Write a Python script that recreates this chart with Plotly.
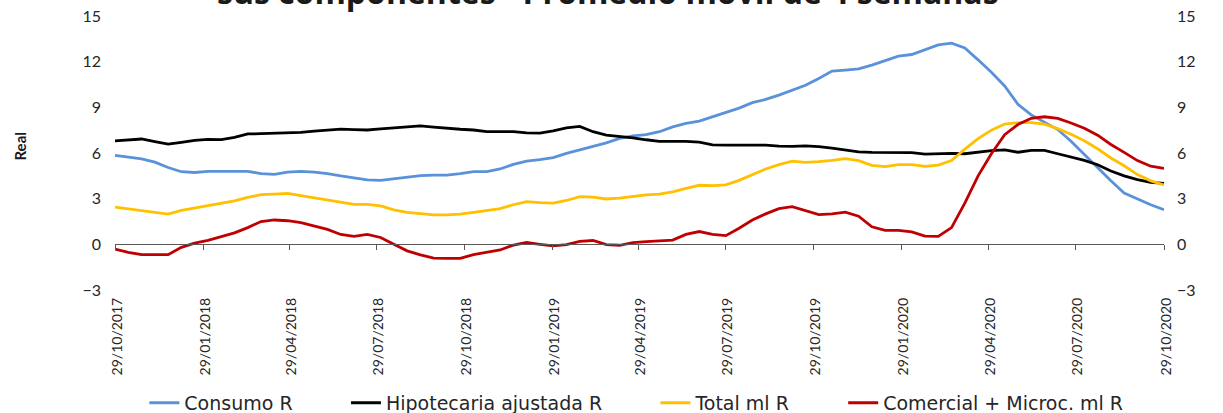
import pandas as pd
import plotly.graph_objects as go

# ---- data (bi-weekly readings of 4-week moving averages, % real) ----
start_date = "2017-10-29"
end_date = "2020-10-29"
n_points = 80

consumo = [5.85, 5.73, 5.62, 5.40, 5.05, 4.77, 4.72, 4.79, 4.79, 4.79,
           4.79, 4.65, 4.60, 4.75, 4.79, 4.75, 4.65, 4.50, 4.38, 4.24,
           4.20, 4.30, 4.40, 4.52, 4.55, 4.55, 4.65, 4.78, 4.78, 4.95,
           5.25, 5.47, 5.56, 5.70, 5.97, 6.20, 6.45, 6.67, 6.96, 7.12,
           7.20, 7.40, 7.72, 7.94, 8.10, 8.38, 8.62, 8.95, 9.31, 9.52,
           9.80, 10.10, 10.45, 10.90, 11.38, 11.45, 11.52, 11.77, 12.06, 12.36,
           12.47, 12.76, 13.10, 13.22, 12.90, 12.12, 11.30, 10.40, 9.20, 8.50,
           8.03, 7.54, 6.77, 5.90, 5.00, 4.17, 3.37, 2.96, 2.60, 2.27]

hipotecaria = [6.80, 6.86, 6.92, 6.75, 6.59, 6.70, 6.83, 6.90, 6.88, 7.03,
               7.25, 7.27, 7.29, 7.32, 7.36, 7.44, 7.52, 7.57, 7.54, 7.51,
               7.58, 7.65, 7.72, 7.78, 7.70, 7.62, 7.56, 7.51, 7.41, 7.40,
               7.40, 7.32, 7.31, 7.45, 7.65, 7.75, 7.40, 7.17, 7.10, 7.00,
               6.87, 6.77, 6.77, 6.77, 6.71, 6.54, 6.52, 6.52, 6.52, 6.52,
               6.45, 6.43, 6.47, 6.42, 6.32, 6.17, 6.07, 6.04, 6.04, 6.04,
               6.02, 5.93, 5.97, 5.98, 5.95, 6.07, 6.16, 6.20, 6.05, 6.17,
               6.17, 5.95, 5.73, 5.52, 5.23, 4.82, 4.50, 4.25, 4.07, 4.00]

total = [2.45, 2.33, 2.19, 2.10, 1.99, 2.23, 2.38, 2.54, 2.70, 2.85,
         3.08, 3.26, 3.30, 3.34, 3.20, 3.05, 2.91, 2.77, 2.63, 2.63,
         2.52, 2.27, 2.10, 2.02, 1.94, 1.93, 1.99, 2.10, 2.20, 2.35,
         2.60, 2.80, 2.74, 2.71, 2.88, 3.13, 3.10, 2.98, 3.03, 3.16,
         3.25, 3.30, 3.45, 3.67, 3.88, 3.86, 3.91, 4.20, 4.60, 4.95,
         5.24, 5.46, 5.39, 5.43, 5.52, 5.63, 5.50, 5.19, 5.10, 5.23,
         5.23, 5.12, 5.20, 5.50, 6.25, 6.95, 7.50, 7.90, 8.00, 7.99,
         7.90, 7.60, 7.23, 6.80, 6.28, 5.67, 5.16, 4.58, 4.17, 3.90]

comercial = [-0.31, -0.53, -0.68, -0.68, -0.68, -0.20, 0.08, 0.26, 0.50, 0.75,
             1.10, 1.50, 1.60, 1.55, 1.42, 1.19, 0.98, 0.65, 0.53, 0.65,
             0.45, 0.00, -0.43, -0.69, -0.90, -0.92, -0.92, -0.67, -0.52, -0.37,
             -0.05, 0.12, 0.00, -0.10, -0.02, 0.20, 0.25, -0.02, -0.06, 0.11,
             0.18, 0.21, 0.28, 0.65, 0.84, 0.65, 0.57, 1.06, 1.60, 2.00,
             2.34, 2.47, 2.20, 1.95, 2.00, 2.12, 1.85, 1.15, 0.92, 0.92,
             0.82, 0.54, 0.52, 1.10, 2.70, 4.50, 5.95, 7.20, 7.87, 8.28,
             8.38, 8.27, 7.97, 7.63, 7.17, 6.56, 6.04, 5.50, 5.13, 4.99]

series_names = ["Consumo R", "Hipotecaria ajustada R", "Total ml R",
                "Comercial + Microc. ml R"]
series_colors = ["#5A92DA", "#000000", "#FFC000", "#C00000"]

tick_labels = ["29/10/2017", "29/01/2018", "29/04/2018", "29/07/2018",
               "29/10/2018", "29/01/2019", "29/04/2019", "29/07/2019",
               "29/10/2019", "29/01/2020", "29/04/2020", "29/07/2020",
               "29/10/2020"]
y_ticks = [-3, 0, 3, 6, 9, 12, 15]

title_text = "sus componentes - Promedio móvil de 4 semanas"
y_title = "Real"

# ---- build ----
dates = pd.date_range(start_date, end_date, periods=n_points)
tick_vals = [pd.to_datetime(t, format="%d/%m/%Y") for t in tick_labels]
x_range = [dates[0], dates[-1]]
pad = "\u00a0" * 8  # extra room between legend entries

fig = go.Figure()
for i, (name, vals, col) in enumerate(zip(series_names,
                                          [consumo, hipotecaria, total, comercial],
                                          series_colors)):
    label = name + (pad if i < len(series_names) - 1 else "")
    fig.add_trace(go.Scatter(x=dates, y=vals, name=label, mode="lines",
                             line=dict(color=col, width=2.8)))

# helper traces so the mirrored / zero-crossing axes are drawn
fig.add_trace(go.Scatter(x=x_range, y=[0, 0], xaxis="x2", yaxis="y",
                         mode="lines", line=dict(width=0),
                         showlegend=False, hoverinfo="skip"))
fig.add_trace(go.Scatter(x=x_range, y=[0, 0], xaxis="x", yaxis="y2",
                         mode="lines", line=dict(width=0),
                         showlegend=False, hoverinfo="skip"))

tick_font = dict(family="Lato, Carlito, sans-serif", size=16, color="#262626")

fig.update_layout(
    width=1223, height=413,
    margin=dict(l=115, r=59, t=16, b=123, autoexpand=False),
    plot_bgcolor="white", paper_bgcolor="white",
    showlegend=True,
    legend=dict(orientation="h", x=0.497, xanchor="center", y=-0.412,
                yanchor="middle",
                font=dict(family="DejaVu Sans, sans-serif", size=19,
                          color="#262626")),
    xaxis=dict(type="date", range=x_range, tickvals=tick_vals,
               ticktext=tick_labels, tickangle=-90, ticks="",
               showgrid=False, zeroline=False, showline=False,
               ticklabelstandoff=4, ticklabelshift=2,
               tickfont=dict(family="Lato, sans-serif", size=14,
                             color="#262626")),
    xaxis2=dict(type="date", range=x_range, overlaying="x", anchor="free",
                position=1 / 6, side="bottom",
                tickvals=tick_vals, showticklabels=False, ticks="outside",
                ticklen=5, tickwidth=1, tickcolor="#595959",
                showline=True, linecolor="#595959", linewidth=1,
                showgrid=False, zeroline=False),
    yaxis=dict(range=[-3, 15], tickvals=y_ticks, showgrid=False,
               zeroline=False, showline=False, ticks="",
               tickfont=tick_font, ticklabelstandoff=13),
    yaxis2=dict(range=[-3, 15], tickvals=y_ticks, overlaying="y",
                side="right", showgrid=False, zeroline=False,
                showline=False, ticks="", tickfont=tick_font,
                ticklabelstandoff=12),
    annotations=[
        dict(text="<b>" + title_text + "</b>", xref="paper", yref="paper",
             x=0.47, y=1, xanchor="center", yanchor="bottom", yshift=1,
             showarrow=False,
             font=dict(family="Open Sans, sans-serif", size=32, color="#1a1a1a")),
        dict(text="<b>" + y_title + "</b>", xref="paper", yref="paper",
             x=0, y=0.52, xshift=-95, yshift=1, textangle=-90,
             showarrow=False, xanchor="center", yanchor="middle",
             font=dict(family="Lato, sans-serif", size=15, color="#1a1a1a")),
    ],
)

fig.write_html("out.html", config={"displayModeBar": False},
               post_script="document.body.style.margin='0px';")
